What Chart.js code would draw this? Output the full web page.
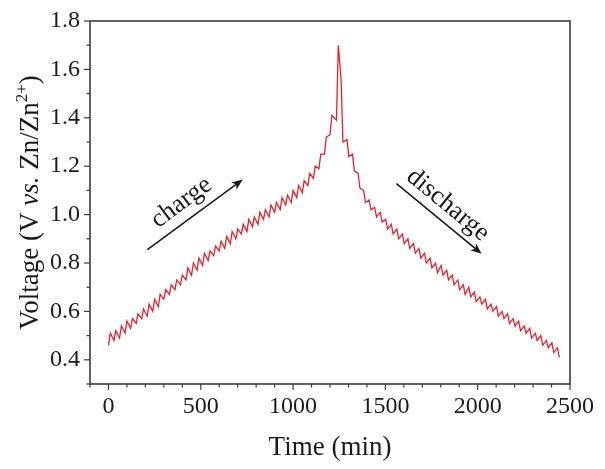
<!DOCTYPE html>
<html>
<head>
<meta charset="utf-8">
<script src="https://cdn.jsdelivr.net/npm/chart.js@4.4.1/dist/chart.umd.min.js"></script>
<style>
    html, body { margin: 0; padding: 0; background: #fff; }
    .gitt-box { width: 605px; height: 469px; }
</style>
</head>
<body>
<div class="gitt-box"><canvas id="gitt-chart" width="605" height="469"></canvas></div>
<script>
// GITT steps: start time of each pulse (min),
// relaxed voltage before the pulse and voltage at the end of the pulse (V)
const chargeStart = [0, 30, 60, 90, 120, 150, 180, 210, 240, 270, 300, 330, 360, 390, 420, 450, 480, 510, 540, 570, 600,
    630, 660, 690, 720, 750, 780, 810, 840, 870, 900, 930, 960, 990, 1020, 1050, 1080, 1110, 1140, 1170, 1200, 1235];
const chargeRest = [0.46, 0.48, 0.49, 0.51, 0.53, 0.55, 0.57, 0.58, 0.60, 0.62, 0.65, 0.67, 0.69, 0.71, 0.73, 0.75, 0.77,
    0.79, 0.81, 0.83, 0.85, 0.86, 0.88, 0.90, 0.92, 0.93, 0.95, 0.96, 0.98, 0.99, 1.01, 1.02, 1.04, 1.05, 1.07, 1.09, 1.12,
    1.15, 1.19, 1.25, 1.33, 1.39];
const chargePeak = [0.51, 0.52, 0.54, 0.56, 0.57, 0.59, 0.61, 0.63, 0.65, 0.67, 0.69, 0.71, 0.73, 0.75, 0.78, 0.80, 0.82,
    0.84, 0.85, 0.87, 0.89, 0.91, 0.93, 0.94, 0.96, 0.98, 0.99, 1.01, 1.02, 1.04, 1.05, 1.07, 1.08, 1.10, 1.12, 1.14, 1.17,
    1.20, 1.25, 1.32, 1.41, 1.70];

const dischargeStart = [1260, 1292, 1322, 1352, 1382, 1412, 1442, 1472, 1502, 1532, 1562, 1592, 1622, 1652, 1682, 1712,
    1742, 1772, 1802, 1832, 1862, 1892, 1922, 1952, 1982, 2012, 2042, 2072, 2102, 2132, 2162, 2192, 2222, 2252, 2282, 2312,
    2342, 2372, 2402, 2432];
const dischargeRest = [1.56, 1.31, 1.25, 1.17, 1.10, 1.06, 1.03, 1.01, 0.98, 0.96, 0.94, 0.92, 0.90, 0.88, 0.86, 0.84,
    0.82, 0.80, 0.79, 0.77, 0.75, 0.73, 0.71, 0.70, 0.68, 0.66, 0.65, 0.63, 0.62, 0.60, 0.59, 0.57, 0.56, 0.54, 0.53, 0.51,
    0.50, 0.48, 0.47, 0.45];
const dischargeLow = [1.30, 1.24, 1.18, 1.11, 1.05, 1.02, 0.99, 0.97, 0.94, 0.92, 0.90, 0.88, 0.86, 0.84, 0.82, 0.80,
    0.78, 0.76, 0.75, 0.73, 0.71, 0.69, 0.67, 0.66, 0.64, 0.63, 0.61, 0.60, 0.58, 0.57, 0.55, 0.54, 0.52, 0.51, 0.49, 0.48,
    0.46, 0.45, 0.43, 0.41];

const pulseMin = 10;

// axis ranges and labelled ticks
const xRange = [-100, 2500];
const yRange = [0.3, 1.8];
const xLabels = [0, 500, 1000, 1500, 2000, 2500];
const yLabels = ['0.4', '0.6', '0.8', '1.0', '1.2', '1.4', '1.6', '1.8'];

// annotation arrows, in data units: [time, voltage]
const chargeArrow = { from: [211, 0.855], to: [727, 1.145], text: 'charge', at: [396, 1.05] };
const dischargeArrow = { from: [1560, 1.128], to: [2021, 0.838], text: 'discharge', at: [1838, 1.04] };

(() => {
    const serif = "'Liberation Serif', 'Times New Roman', serif";
    const ink = '#1a1a1a';
    const frame = '#3c3c3c';

    const points = [];
    chargeStart.forEach((t, i) => {
        points.push({ x: t, y: chargeRest[i] });
        points.push({ x: t + pulseMin, y: chargePeak[i] });
    });
    dischargeStart.forEach((t, i) => {
        points.push({ x: t, y: dischargeRest[i] });
        points.push({ x: t + pulseMin, y: dischargeLow[i] });
    });

    const isXLabel = (v) => xLabels.includes(Math.round(v));
    const yText = (v) => (Math.round(v * 10) / 10).toFixed(1);
    const isYLabel = (v) => yLabels.includes(yText(v));

    const drawArrow = (chart, spec) => {
        const { ctx, scales: { x, y } } = chart;
        const x0 = x.getPixelForValue(spec.from[0]);
        const y0 = y.getPixelForValue(spec.from[1]);
        const x1 = x.getPixelForValue(spec.to[0]);
        const y1 = y.getPixelForValue(spec.to[1]);
        const angle = Math.atan2(y1 - y0, x1 - x0);

        ctx.save();
        ctx.strokeStyle = ink;
        ctx.fillStyle = ink;
        ctx.lineWidth = 1.6;
        ctx.beginPath();
        ctx.moveTo(x0, y0);
        ctx.lineTo(x1 - 6 * Math.cos(angle), y1 - 6 * Math.sin(angle));
        ctx.stroke();

        ctx.translate(x1, y1);
        ctx.rotate(angle);
        ctx.beginPath();
        ctx.moveTo(0, 0);
        ctx.lineTo(-11, -4.5);
        ctx.lineTo(-8, 0);
        ctx.lineTo(-11, 4.5);
        ctx.closePath();
        ctx.fill();
        ctx.restore();

        ctx.save();
        ctx.translate(x.getPixelForValue(spec.at[0]), y.getPixelForValue(spec.at[1]));
        ctx.rotate(angle);
        ctx.font = `26px ${serif}`;
        ctx.fillStyle = ink;
        ctx.textAlign = 'center';
        ctx.textBaseline = 'middle';
        ctx.fillText(spec.text, 0, 0);
        ctx.restore();
    };

    const drawYTitle = (chart) => {
        const { ctx, chartArea: area } = chart;
        const base = `27px ${serif}`;
        const italic = `italic 27px ${serif}`;
        const small = `17px ${serif}`;
        const parts = [
            { text: 'Voltage (V ', font: base, rise: 0 },
            { text: 'vs.', font: italic, rise: 0 },
            { text: ' Zn/Zn', font: base, rise: 0 },
            { text: '2+', font: small, rise: 11 },
            { text: ')', font: base, rise: 0 },
        ];

        ctx.save();
        let total = 0;
        parts.forEach((p) => {
            ctx.font = p.font;
            p.width = ctx.measureText(p.text).width;
            total += p.width;
        });
        ctx.translate(38, (area.top + area.bottom) / 2);
        ctx.rotate(-Math.PI / 2);
        ctx.fillStyle = ink;
        ctx.textBaseline = 'alphabetic';
        let cursor = -total / 2;
        parts.forEach((p) => {
            ctx.font = p.font;
            ctx.fillText(p.text, cursor, -p.rise);
            cursor += p.width;
        });
        ctx.restore();
    };

    const gittDecor = {
        id: 'gittDecor',
        afterDraw(chart) {
            const { ctx, chartArea: area, scales: { x, y } } = chart;

            ctx.save();
            ctx.strokeStyle = frame;
            ctx.lineWidth = 1.2;
            x.ticks.forEach((tk) => {
                const px = x.getPixelForValue(tk.value);
                const len = isXLabel(tk.value) ? 6 : 3.5;
                ctx.beginPath();
                ctx.moveTo(px, area.bottom);
                ctx.lineTo(px, area.bottom + len);
                ctx.stroke();
            });
            y.ticks.forEach((tk) => {
                const py = y.getPixelForValue(tk.value);
                const len = isYLabel(tk.value) ? 6 : 3.5;
                ctx.beginPath();
                ctx.moveTo(area.left, py);
                ctx.lineTo(area.left - len, py);
                ctx.stroke();
            });

            ctx.lineWidth = 1.6;
            ctx.strokeRect(area.left, area.top, area.right - area.left, area.bottom - area.top);
            ctx.restore();

            drawYTitle(chart);

            ctx.save();
            ctx.font = `27px ${serif}`;
            ctx.fillStyle = ink;
            ctx.textAlign = 'center';
            ctx.textBaseline = 'middle';
            ctx.fillText('Time (min)', (area.left + area.right) / 2, 448);
            ctx.restore();

            drawArrow(chart, chargeArrow);
            drawArrow(chart, dischargeArrow);
        },
    };

    const canvas = document.getElementById('gitt-chart');

    new Chart(canvas, {
        type: 'line',
        data: {
            datasets: [{
                label: 'GITT',
                data: points,
                borderColor: '#ec1f2a',
                borderWidth: 1.3,
                pointRadius: 0,
                tension: 0,
                fill: false,
            }],
        },
        options: {
            responsive: false,
            animation: false,
            events: [],
            layout: { padding: { top: 21, right: 35, left: 0, bottom: 0 } },
            plugins: {
                legend: { display: false },
                tooltip: { enabled: false },
            },
            scales: {
                x: {
                    type: 'linear',
                    min: xRange[0],
                    max: xRange[1],
                    afterFit: (scale) => { scale.height = 85; },
                    border: { display: false },
                    grid: { display: false },
                    ticks: {
                        stepSize: 100,
                        autoSkip: false,
                        maxRotation: 0,
                        padding: 0,
                        color: ink,
                        font: { family: serif, size: 24 },
                        callback: (v) => (isXLabel(v) ? String(Math.round(v)) : ''),
                    },
                },
                y: {
                    min: yRange[0],
                    max: yRange[1],
                    afterFit: (scale) => { scale.width = 90; },
                    border: { display: false },
                    grid: { display: false },
                    ticks: {
                        stepSize: 0.1,
                        autoSkip: false,
                        padding: 2,
                        color: ink,
                        font: { family: serif, size: 24 },
                        callback: (v) => (isYLabel(v) ? yText(v) : ''),
                    },
                },
            },
        },
        plugins: [gittDecor],
    });
})();
</script>
</body>
</html>
